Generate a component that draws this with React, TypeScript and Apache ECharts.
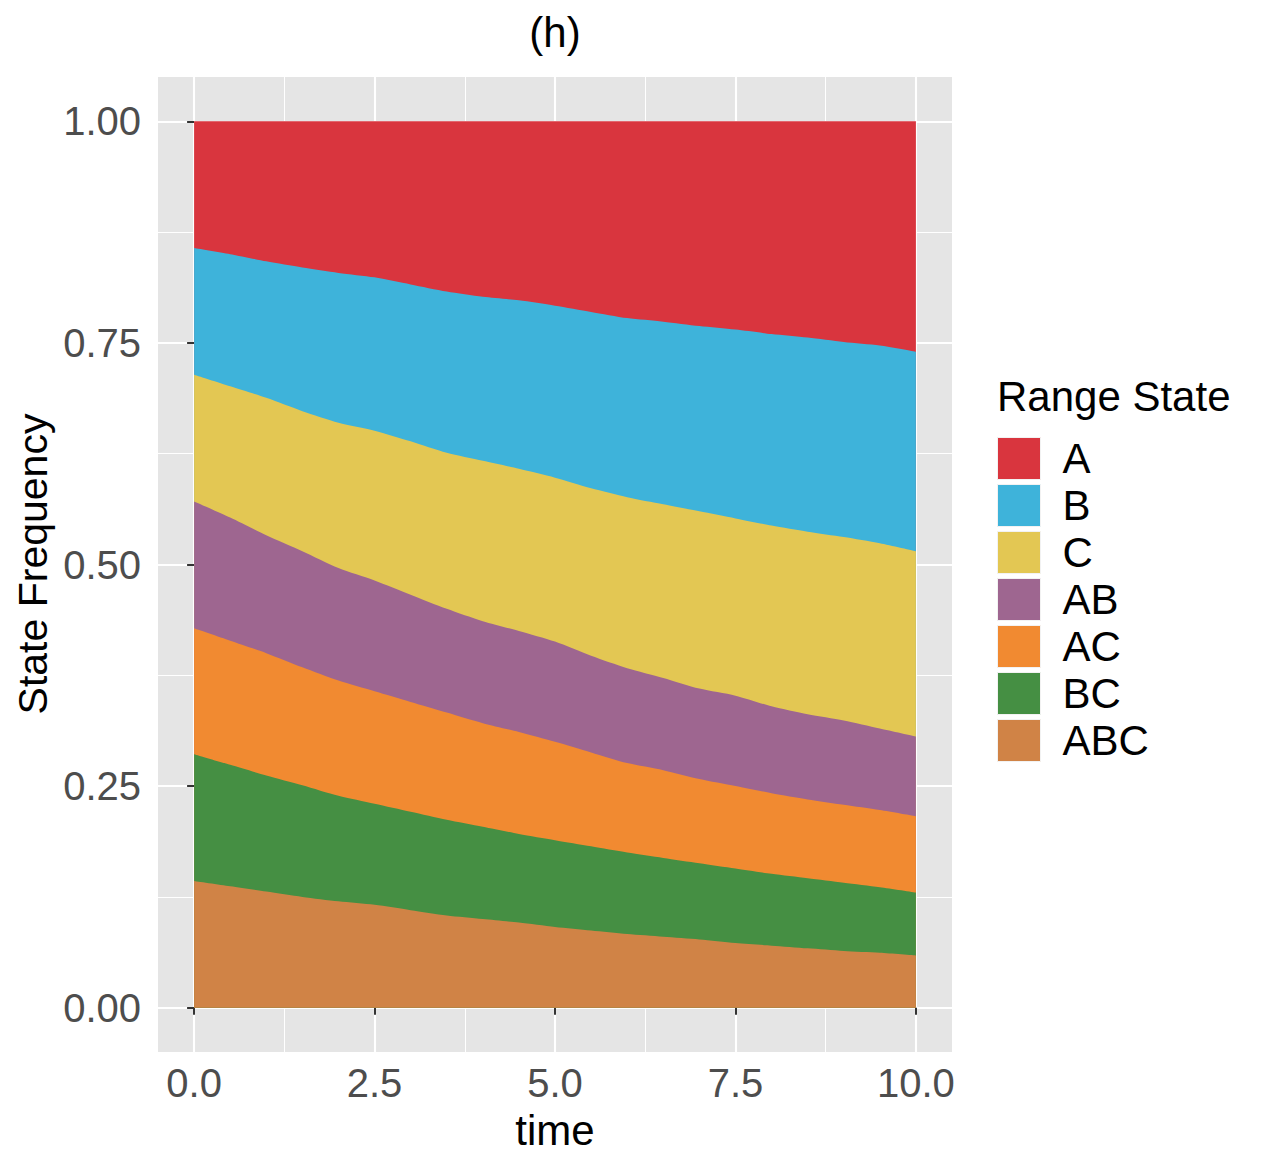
import React, { useEffect, useRef } from "react";
import * as echarts from "echarts";

const times = [0, 0.5, 1, 1.5, 2, 2.5, 3, 3.5, 4, 4.5, 5, 5.5, 6, 6.5, 7, 7.5, 8, 8.5, 9, 9.5, 10];

const stateA = [0.143, 0.150, 0.158, 0.165, 0.171, 0.176, 0.184, 0.192, 0.198, 0.202, 0.208, 0.215, 0.222, 0.226, 0.231, 0.235, 0.240, 0.244, 0.249, 0.253, 0.260];
const stateB = [0.143, 0.149, 0.154, 0.162, 0.169, 0.173, 0.177, 0.182, 0.185, 0.190, 0.194, 0.199, 0.202, 0.206, 0.209, 0.213, 0.216, 0.219, 0.220, 0.223, 0.225];
const stateC = [0.143, 0.148, 0.155, 0.158, 0.164, 0.169, 0.173, 0.176, 0.181, 0.183, 0.185, 0.189, 0.193, 0.196, 0.200, 0.200, 0.204, 0.206, 0.207, 0.209, 0.209];
const stateAB = [0.143, 0.139, 0.133, 0.131, 0.127, 0.125, 0.121, 0.117, 0.115, 0.114, 0.113, 0.109, 0.107, 0.104, 0.102, 0.102, 0.098, 0.096, 0.095, 0.092, 0.090];
const stateAC = [0.142, 0.140, 0.138, 0.133, 0.130, 0.127, 0.124, 0.121, 0.117, 0.115, 0.111, 0.106, 0.101, 0.099, 0.095, 0.093, 0.091, 0.089, 0.088, 0.087, 0.086];
const stateBC = [0.143, 0.137, 0.131, 0.126, 0.119, 0.114, 0.111, 0.108, 0.104, 0.100, 0.098, 0.095, 0.092, 0.089, 0.086, 0.084, 0.081, 0.079, 0.077, 0.074, 0.071];
const stateABC = [0.143, 0.137, 0.131, 0.125, 0.120, 0.116, 0.110, 0.104, 0.100, 0.096, 0.091, 0.087, 0.083, 0.080, 0.077, 0.073, 0.070, 0.067, 0.064, 0.062, 0.059];

const legendOrder = ["A", "B", "C", "AB", "AC", "BC", "ABC"];
const xTicks = [0, 2.5, 5, 7.5, 10];
const xMinor = [1.25, 3.75, 6.25, 8.75];
const yTicks = [0, 0.25, 0.5, 0.75, 1];
const yMinor = [0.125, 0.375, 0.625, 0.875];

const FONT = "'Liberation Sans', Arial, Helvetica, sans-serif";

export default function App() {
  const ref = useRef<HTMLDivElement>(null);

  useEffect(() => {
    if (!ref.current) return;
    const chart = echarts.init(ref.current, null, { renderer: "svg" });

    // stacking order: bottom first
    const stackList = [
      { name: "ABC", values: stateABC, color: "#D08346" },
      { name: "BC", values: stateBC, color: "#458F43" },
      { name: "AC", values: stateAC, color: "#F18A31" },
      { name: "AB", values: stateAB, color: "#9E6690" },
      { name: "C", values: stateC, color: "#E3C753" },
      { name: "B", values: stateB, color: "#3EB3DA" },
      { name: "A", values: stateA, color: "#D9353E" },
    ];

    // cumulative tops (computed from the arrays above)
    const running = times.map(() => 0);
    const cumulated = stackList.map((s) => {
      const tops = s.values.map((v, i) => {
        running[i] += v;
        return running[i];
      });
      return { ...s, tops };
    });

    // draw the topmost cumulative first so lower layers paint over it
    const series = cumulated
      .slice()
      .reverse()
      .map((s, k) => ({
        name: s.name,
        type: "line",
        xAxisIndex: 0,
        yAxisIndex: 0,
        data: times.map((t, i) => [t, s.tops[i]]),
        symbol: "none",
        showSymbol: false,
        smooth: 0.25,
        color: s.color,
        itemStyle: { color: s.color },
        lineStyle: { width: 0, color: s.color },
        areaStyle: { color: s.color, opacity: 1, origin: 0 },
        emphasis: { disabled: true },
        silent: true,
        z: 2 + k,
      }));

    const option = {
      animation: false,
      backgroundColor: "#FFFFFF",
      textStyle: { fontFamily: FONT },
      grid: { left: 158, top: 77, width: 794, height: 975, backgroundColor: "#E5E5E5", show: true, borderWidth: 0 },
      xAxis: [
        {
          type: "value",
          min: -0.5,
          max: 10.5,
          position: "bottom",
          axisLine: { show: false },
          axisTick: { show: true, length: 7, customValues: xTicks, lineStyle: { color: "#333333", width: 2 } },
          axisLabel: {
            show: true,
            customValues: xTicks,
            formatter: (v: number) => v.toFixed(1),
            fontSize: 40,
            color: "#4D4D4D",
            fontFamily: FONT,
            margin: 11,
          },
          splitLine: { show: true, lineStyle: { color: "#FFFFFF", width: 2.1 } },
        },
        {
          type: "value",
          min: -0.5,
          max: 10.5,
          position: "bottom",
          axisLine: { show: false },
          axisTick: { show: false, customValues: xMinor },
          axisLabel: { show: false, customValues: xMinor },
          splitLine: { show: true, lineStyle: { color: "#FFFFFF", width: 1 } },
        },
      ],
      yAxis: [
        {
          type: "value",
          min: -0.05,
          max: 1.05,
          position: "left",
          axisLine: { show: false },
          axisTick: { show: true, length: 7, customValues: yTicks, lineStyle: { color: "#333333", width: 2 } },
          axisLabel: {
            show: true,
            customValues: yTicks,
            formatter: (v: number) => v.toFixed(2),
            fontSize: 40,
            color: "#4D4D4D",
            fontFamily: FONT,
            margin: 17,
          },
          splitLine: { show: true, lineStyle: { color: "#FFFFFF", width: 2.1 } },
        },
        {
          type: "value",
          min: -0.05,
          max: 1.05,
          position: "left",
          axisLine: { show: false },
          axisTick: { show: false, customValues: yMinor },
          axisLabel: { show: false, customValues: yMinor },
          splitLine: { show: true, lineStyle: { color: "#FFFFFF", width: 1 } },
        },
      ],
      legend: {
        data: legendOrder,
        orient: "vertical",
        left: 997,
        top: 437,
        padding: 0,
        itemWidth: 43,
        itemHeight: 42,
        itemGap: 4,
        icon: "rect",
        selectedMode: false,
        itemStyle: { borderColor: "#F2F2F2", borderWidth: 1 },
        textStyle: { fontSize: 42, color: "#000000", fontFamily: FONT, padding: [0, 0, 0, 17] },
      },
      graphic: [
        {
          type: "text",
          x: 555,
          y: 32,
          style: { text: "(h)", fontSize: 42, fill: "#000000", fontFamily: FONT, textAlign: "center", textVerticalAlign: "middle" },
        },
        {
          type: "text",
          x: 555,
          y: 1130,
          style: { text: "time", fontSize: 42, fill: "#000000", fontFamily: FONT, textAlign: "center", textVerticalAlign: "middle" },
        },
        {
          type: "text",
          x: 33,
          y: 564,
          rotation: Math.PI / 2,
          style: { text: "State Frequency", fontSize: 41, fill: "#000000", fontFamily: FONT, textAlign: "center", textVerticalAlign: "middle" },
        },
        {
          type: "text",
          x: 997,
          y: 396,
          style: { text: "Range State", fontSize: 42, fill: "#000000", fontFamily: FONT, textAlign: "left", textVerticalAlign: "middle" },
        },
      ],
      series,
    };

    chart.setOption(option as any);
    return () => chart.dispose();
  }, []);

  return (
    <div
      ref={ref}
      style={{ position: "absolute", left: 0, top: 0, width: 1262, height: 1168, background: "#FFFFFF" }}
    />
  );
}
